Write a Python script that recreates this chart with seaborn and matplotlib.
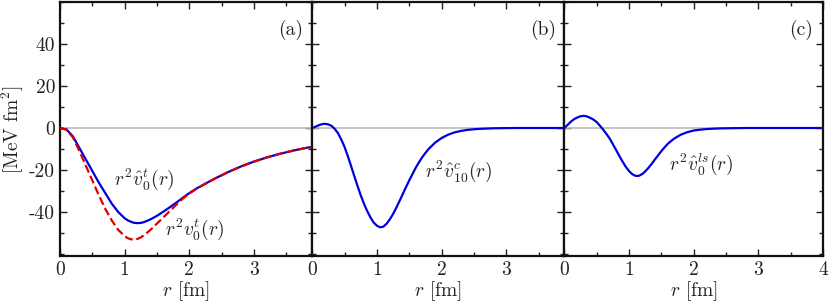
import numpy as np
import pandas as pd
import seaborn as sns
import matplotlib as mpl
import matplotlib.pyplot as plt
from matplotlib.ticker import MultipleLocator

# panel (a): tensor potential, r^2 * v
r_a = [0.0, 0.1, 0.2, 0.3, 0.4, 0.5, 0.6, 0.7, 0.8, 0.9, 1.0, 1.05, 1.1, 1.15,
       1.2, 1.25, 1.3, 1.4, 1.5, 1.6, 1.7, 1.8, 1.9, 2.0, 2.1, 2.2, 2.4, 2.6,
       2.8, 3.0, 3.2, 3.4, 3.6, 3.8, 3.9]
vt_hat = [0.0, -0.7, -4.0, -9.5, -15.0, -20.5, -26.0, -31.0, -36.0, -40.0,
          -43.0, -44.0, -44.7, -45.2, -45.3, -45.2, -44.8, -43.5, -41.8, -39.8,
          -37.7, -35.5, -33.2, -31.0, -29.0, -27.3, -24.0, -21.0, -18.3, -16.0,
          -14.0, -12.3, -10.8, -9.5, -9.0]
vt_orig = [0.0, -0.8, -4.5, -11.0, -18.0, -25.0, -32.0, -38.5, -44.0, -48.5,
           -51.5, -52.5, -53.0, -53.1, -52.8, -52.1, -51.0, -48.5, -45.5, -42.5,
           -39.5, -36.5, -33.6, -31.2, -29.2, -27.4, -24.0, -21.0, -18.3, -16.0,
           -14.0, -12.3, -10.8, -9.5, -9.0]

# panel (b): central potential
r_b = [0.0, 0.05, 0.1, 0.15, 0.2, 0.25, 0.3, 0.35, 0.4, 0.45, 0.5, 0.55, 0.6,
       0.65, 0.7, 0.75, 0.8, 0.85, 0.9, 0.95, 1.0, 1.05, 1.1, 1.15, 1.2, 1.25,
       1.3, 1.35, 1.4, 1.45, 1.5, 1.55, 1.6, 1.65, 1.7, 1.75, 1.8, 1.9, 2.0,
       2.1, 2.2, 2.3, 2.4, 2.5, 2.6, 2.8, 3.0, 3.2, 3.5, 3.9]
vc_hat = [0.0, 0.6, 1.3, 1.8, 2.0, 1.7, 1.0, -0.5, -2.5, -5.5, -9.0, -13.3,
          -18.0, -22.8, -27.5, -32.0, -36.0, -39.5, -42.5, -45.0, -46.5, -47.3,
          -47.0, -45.6, -43.5, -41.0, -38.0, -34.8, -31.5, -28.2, -25.0, -22.0,
          -19.0, -16.4, -14.0, -11.9, -10.0, -7.0, -4.8, -3.2, -2.1, -1.4, -0.9,
          -0.6, -0.4, -0.15, -0.05, 0.0, 0.0, 0.0]

# panel (c): spin-orbit potential
r_c = [0.0, 0.05, 0.1, 0.15, 0.2, 0.25, 0.3, 0.35, 0.4, 0.45, 0.5, 0.55, 0.6,
       0.65, 0.7, 0.75, 0.8, 0.85, 0.9, 0.95, 1.0, 1.05, 1.1, 1.15, 1.2, 1.25,
       1.3, 1.35, 1.4, 1.45, 1.5, 1.55, 1.6, 1.65, 1.7, 1.8, 1.9, 2.0, 2.1,
       2.2, 2.4, 2.6, 2.8, 3.0, 3.5, 4.0]
vls_hat = [0.0, 1.5, 3.0, 4.2, 5.0, 5.6, 5.8, 5.5, 4.8, 4.0, 2.8, 1.1, -0.8,
           -2.8, -5.0, -7.7, -10.5, -13.3, -16.0, -18.5, -20.5, -22.0, -22.8,
           -22.8, -22.0, -20.7, -19.0, -17.1, -15.0, -13.0, -11.0, -9.2, -7.5,
           -6.2, -5.0, -3.2, -2.0, -1.2, -0.8, -0.5, -0.2, -0.1, 0.0, 0.0, 0.0,
           0.0]

x_max = [3.9, 3.9, 4.0]
panel_tags = ['(a)', '(b)', '(c)']

blue = '#0000dd'
red = '#dd0000'

sns.set_theme(style='ticks')
plt.rcParams['font.family'] = 'serif'
plt.rcParams['font.serif'] = ['cmr10']
plt.rcParams['mathtext.fontset'] = 'cm'
plt.rcParams['axes.unicode_minus'] = False
plt.rcParams['axes.formatter.use_mathtext'] = True

fig, axes = plt.subplots(1, 3, figsize=(8.3, 3.02), dpi=100, sharey=True,
                         gridspec_kw={'width_ratios': x_max, 'wspace': 0})
fig.subplots_adjust(left=0.0723, right=0.9916, top=0.9934, bottom=0.152)

for ax in axes:
  ax.axhline(0, color='#bbbbbb', lw=1.2, zorder=1)

sns.lineplot(x=r_a, y=vt_orig, ax=axes[0], color=red, lw=1.6, linestyle='--',
             dashes=(4.5, 2.5), zorder=3)
sns.lineplot(x=r_a, y=vt_hat, ax=axes[0], color=blue, lw=1.6, zorder=2)
sns.lineplot(x=r_b, y=vc_hat, ax=axes[1], color=blue, lw=1.6)
sns.lineplot(x=r_c, y=vls_hat, ax=axes[2], color=blue, lw=1.6)

fs = 14
axes[0].text(1.30, -24.5, r'$r^2\hat{v}_0^t(r)$', fontsize=fs, ha='center', va='center')
axes[0].text(2.08, -48.3, r'$r^2v_0^t(r)$', fontsize=fs, ha='center', va='center')
axes[1].text(2.27, -20.7, r'$r^2\hat{v}_{10}^c(r)$', fontsize=fs, ha='center', va='center')
axes[2].text(2.12, -17.4, r'$r^2\hat{v}_0^{ls}(r)$', fontsize=fs, ha='center', va='center')

for i, ax in enumerate(axes):
  ax.set_xlim(0, x_max[i])
  ax.set_ylim(-61, 60)
  ax.xaxis.set_major_locator(MultipleLocator(1))
  ax.xaxis.set_minor_locator(MultipleLocator(0.5))
  ax.yaxis.set_major_locator(MultipleLocator(20))
  ax.yaxis.set_minor_locator(MultipleLocator(10))
  ax.tick_params(which='both', direction='in', top=True, right=True,
                 labelsize=fs, width=1.0, colors='#222222', labelcolor='#222222')
  ax.tick_params(which='major', length=5)
  ax.tick_params(which='minor', length=3)
  ax.set_xticks([0, 1, 2, 3, 4][:int(x_max[i]) + 1])
  ax.set_xticklabels([str(t) for t in range(int(x_max[i]) + 1)])
  for s in ax.spines.values():
    s.set_linewidth(1.6)
    s.set_color('#111111')
  ax.set_xlabel(r'$r$ [fm]', fontsize=fs, labelpad=0, color='#222222')
  ax.text(0.915, 0.89, panel_tags[i], transform=ax.transAxes, fontsize=fs,
          ha='center', va='center', color='#222222')

axes[0].set_yticks([-40, -20, 0, 20, 40])
axes[0].set_yticklabels(['-40', '-20', '0', '20', '40'])
axes[0].set_ylabel(r'[MeV fm$^2$]', fontsize=fs, labelpad=2, color='#222222')

fig.savefig('out.png', dpi=100)
